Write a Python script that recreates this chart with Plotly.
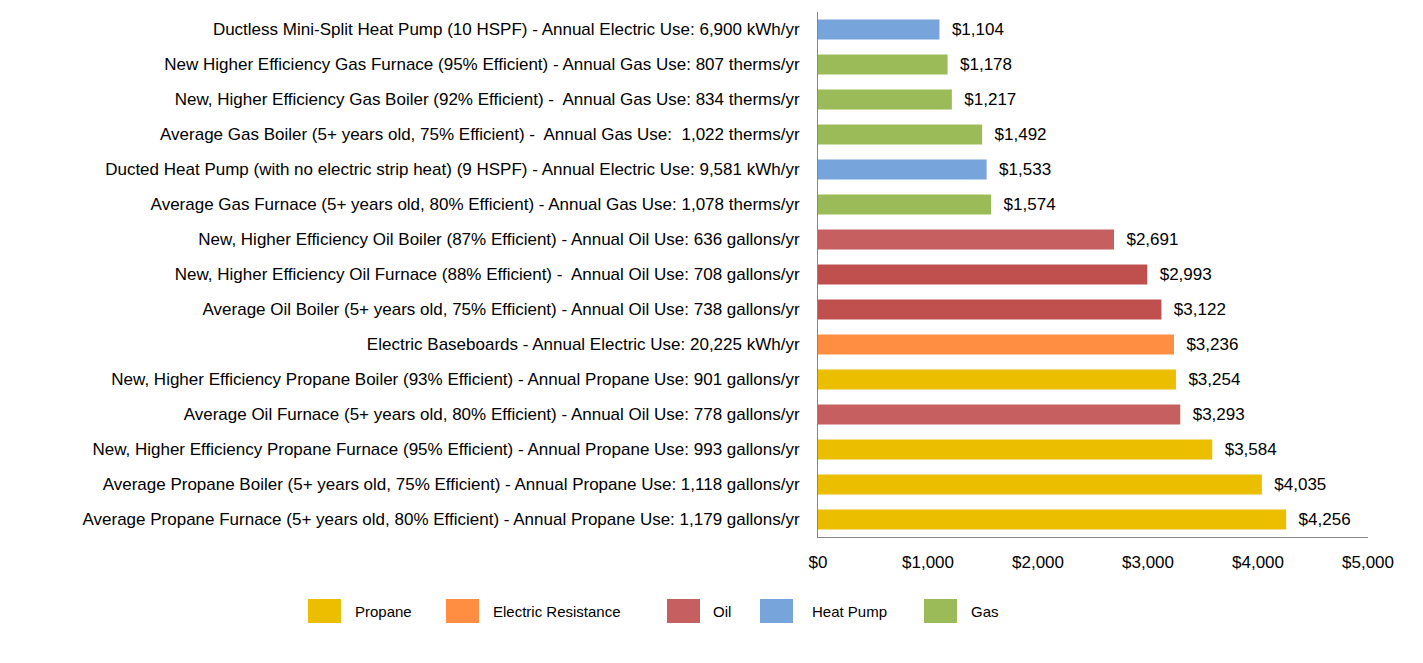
import plotly.graph_objects as go

labels = [
    "Ductless Mini-Split Heat Pump (10 HSPF) - Annual Electric Use: 6,900 kWh/yr",
    "New Higher Efficiency Gas Furnace (95% Efficient) - Annual Gas Use: 807 therms/yr",
    "New, Higher Efficiency Gas Boiler (92% Efficient) -  Annual Gas Use: 834 therms/yr",
    "Average Gas Boiler (5+ years old, 75% Efficient) -  Annual Gas Use:  1,022 therms/yr",
    "Ducted Heat Pump (with no electric strip heat) (9 HSPF) - Annual Electric Use: 9,581 kWh/yr",
    "Average Gas Furnace (5+ years old, 80% Efficient) - Annual Gas Use: 1,078 therms/yr",
    "New, Higher Efficiency Oil Boiler (87% Efficient) - Annual Oil Use: 636 gallons/yr",
    "New, Higher Efficiency Oil Furnace (88% Efficient) -  Annual Oil Use: 708 gallons/yr",
    "Average Oil Boiler (5+ years old, 75% Efficient) - Annual Oil Use: 738 gallons/yr",
    "Electric Baseboards - Annual Electric Use: 20,225 kWh/yr",
    "New, Higher Efficiency Propane Boiler (93% Efficient) - Annual Propane Use: 901 gallons/yr",
    "Average Oil Furnace (5+ years old, 80% Efficient) - Annual Oil Use: 778 gallons/yr",
    "New, Higher Efficiency Propane Furnace (95% Efficient) - Annual Propane Use: 993 gallons/yr",
    "Average Propane Boiler (5+ years old, 75% Efficient) - Annual Propane Use: 1,118 gallons/yr",
    "Average Propane Furnace (5+ years old, 80% Efficient) - Annual Propane Use: 1,179 gallons/yr",
]
costs = [1104, 1178, 1217, 1492, 1533, 1574, 2691, 2993, 3122, 3236, 3254, 3293, 3584, 4035, 4256]
fuel = ["Heat Pump", "Gas", "Gas", "Gas", "Heat Pump", "Gas", "Oil", "Oil", "Oil",
        "Electric Resistance", "Propane", "Oil", "Propane", "Propane", "Propane"]
bar_colors = ["#77A5DB", "#9BBB59", "#9BBB59", "#9BBB59", "#77A5DB", "#9BBB59", "#C65F5F", "#C0504D",
              "#C0504D", "#FF8E42", "#EBBE00", "#C65F5F", "#EBBE00", "#EBBE00", "#EBBE00"]
legend_order = ["Propane", "Electric Resistance", "Oil", "Heat Pump", "Gas"]
legend_colors = {"Propane": "#EBBE00", "Electric Resistance": "#FF8E42", "Oil": "#C65F5F",
                 "Heat Pump": "#77A5DB", "Gas": "#9BBB59"}
tick_vals = [0, 1000, 2000, 3000, 4000, 5000]
tick_text = ["$0", "$1,000", "$2,000", "$3,000", "$4,000", "$5,000"]

FONT = "Liberation Sans, Arial, sans-serif"

# page geometry (page has an 8px body offset)
OFF = 8
W, H = 1423 - OFF, 663 - OFF
ML, MT, MR, MB = 818 - OFF, 12 - OFF, 55, 126
PW = W - ML - MR
PH = H - MT - MB


def px_to_paper_x(px):
    return (px - OFF - ML) / PW


def px_to_paper_y(py):
    return (PH + MT - (py - OFF)) / PH


fig = go.Figure()
for f in legend_order:
    idx = [i for i, v in enumerate(fuel) if v == f]
    fig.add_trace(go.Bar(
        orientation="h",
        x=[costs[i] for i in idx],
        y=[labels[i] for i in idx],
        marker=dict(color=[bar_colors[i] for i in idx], line=dict(width=0)),
        name=f,
        width=0.57,
        text=["\u00a0\u00a0" + f"${costs[i]:,}" for i in idx],
        textposition="outside",
        textfont=dict(size=17, color="#000000", family=FONT),
        cliponaxis=False,
        showlegend=False,
        hoverinfo="x+y",
    ))

# manual legend: rectangles + labels
legend_sq_left = [308, 446, 667, 760, 924]
legend_text_left = [353, 491, 711, 810, 969]
shapes = []
annotations = []
for f, sl, tl in zip(legend_order, legend_sq_left, legend_text_left):
    shapes.append(dict(
        type="rect", xref="paper", yref="paper",
        x0=px_to_paper_x(sl), x1=px_to_paper_x(sl + 33),
        y0=px_to_paper_y(623), y1=px_to_paper_y(599),
        fillcolor=legend_colors[f], line=dict(width=0), layer="above",
    ))
    annotations.append(dict(
        xref="paper", yref="paper", x=px_to_paper_x(tl), y=px_to_paper_y(611),
        xanchor="left", yanchor="middle", text=f, showarrow=False,
        font=dict(size=15, family=FONT, color="#000000"),
    ))

fig.update_layout(
    width=W, height=H,
    paper_bgcolor="white", plot_bgcolor="white",
    margin=dict(l=ML, r=MR, t=MT, b=MB, autoexpand=False),
    font=dict(family=FONT, size=17, color="#000000"),
    showlegend=False,
    barmode="overlay",
    shapes=shapes,
    annotations=annotations,
    xaxis=dict(
        range=[0, 5000], tickvals=tick_vals, ticktext=tick_text,
        showgrid=False, zeroline=False, showline=True, linecolor="#868686", linewidth=1,
        ticks="", ticklabelstandoff=10, tickfont=dict(size=17, family=FONT),
        automargin=False,
    ),
    yaxis=dict(
        categoryorder="array", categoryarray=labels, autorange="reversed",
        showgrid=False, zeroline=False, showline=True, linecolor="#868686", linewidth=1,
        ticks="", ticklabelstandoff=14, tickfont=dict(size=17, family=FONT),
        automargin=False,
    ),
)

fig.write_html("out.html")
